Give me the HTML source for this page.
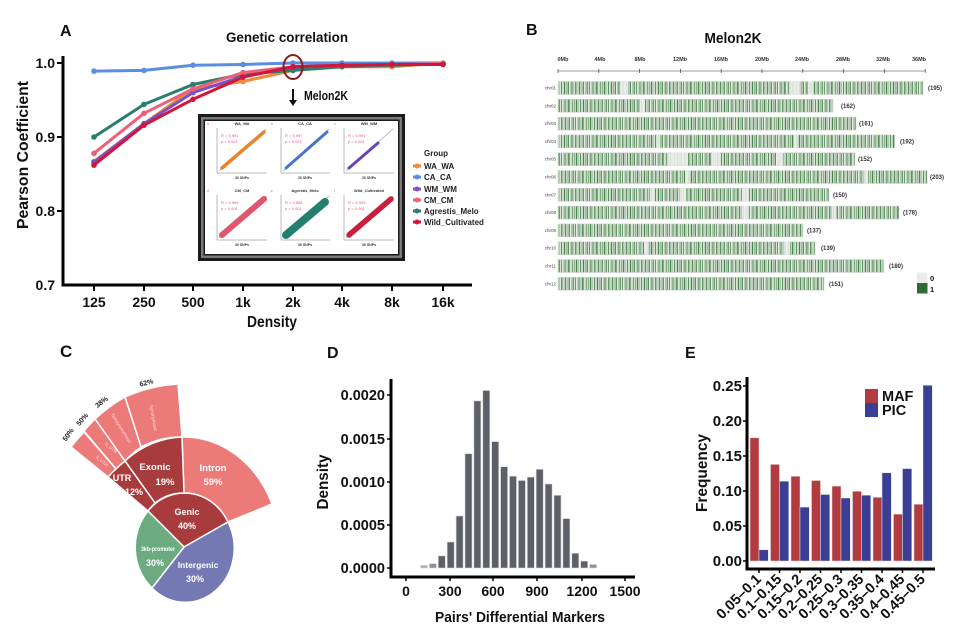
<!DOCTYPE html>
<html><head><meta charset="utf-8"><style>
html,body{margin:0;padding:0;background:#fff;}
svg{display:block;font-family:"Liberation Sans",Arial,sans-serif;}
</style></head><body>
<svg width="960" height="640" viewBox="0 0 960 640" xmlns="http://www.w3.org/2000/svg">
<defs>
<g id="st" fill="#2f7434">
<rect x="0" width="1.2" height="20" opacity=".85"/><rect x="2.2" width=".8" height="20" opacity=".5"/>
<rect x="3.6" width="1.4" height="20" opacity=".75"/><rect x="6" width=".7" height="20" opacity=".35"/>
<rect x="7.4" width="1.1" height="20" opacity=".9"/><rect x="9.5" width=".6" height="20" opacity=".55"/>
<rect x="11" width="1.5" height="20" opacity=".7"/><rect x="13.6" width=".8" height="20" opacity=".45"/>
<rect x="15.2" width="1" height="20" opacity=".95"/><rect x="17.2" width=".7" height="20" opacity=".4"/>
<rect x="18.6" width="1.3" height="20" opacity=".8"/><rect x="21" width=".6" height="20" opacity=".5"/>
<rect x="22.5" width="1.6" height="20" opacity=".65"/><rect x="25" width=".8" height="20" opacity=".85"/>
<rect x="27" width=".6" height="20" opacity=".35"/><rect x="28.4" width="1.2" height="20" opacity=".75"/>
<rect x="30.6" width=".8" height="20" opacity=".55"/><rect x="32.2" width="1.4" height="20" opacity=".9"/>
<rect x="34.8" width=".6" height="20" opacity=".4"/><rect x="36.2" width="1" height="20" opacity=".7"/>
<rect x="38.2" width=".8" height="20" opacity=".6"/><rect x="39.8" width="1.5" height="20" opacity=".85"/>
<rect x="42.4" width=".7" height="20" opacity=".45"/><rect x="44" width="1.1" height="20" opacity=".75"/>
<rect x="46" width=".6" height="20" opacity=".3"/>
</g>
<pattern id="p1" width="47" height="20" patternUnits="userSpaceOnUse"><rect width="47" height="20" fill="#e4eae2"/><use href="#st"/></pattern>
<pattern id="p2" width="47" height="20" patternUnits="userSpaceOnUse" patternTransform="translate(19,0)"><rect width="47" height="20" fill="#e4eae2"/><use href="#st"/></pattern>
<pattern id="p3" width="47" height="20" patternUnits="userSpaceOnUse" patternTransform="translate(33,0)"><rect width="47" height="20" fill="#e4eae2"/><use href="#st"/></pattern>
<marker id="mb" viewBox="-3 -3 6 6" markerWidth="6" markerHeight="6" markerUnits="userSpaceOnUse"><circle r="2.8" fill="#5b8de0"/></marker>
<marker id="mo" viewBox="-3 -3 6 6" markerWidth="6" markerHeight="6" markerUnits="userSpaceOnUse"><circle r="2.8" fill="#f08a3a"/></marker>
<marker id="mp" viewBox="-3 -3 6 6" markerWidth="6" markerHeight="6" markerUnits="userSpaceOnUse"><circle r="2.8" fill="#7a52c2"/></marker>
<marker id="mt" viewBox="-3 -3 6 6" markerWidth="6" markerHeight="6" markerUnits="userSpaceOnUse"><circle r="2.8" fill="#2b7e6e"/></marker>
<marker id="mk" viewBox="-3 -3 6 6" markerWidth="6" markerHeight="6" markerUnits="userSpaceOnUse"><circle r="2.8" fill="#ee6079"/></marker>
<marker id="mr" viewBox="-3 -3 6 6" markerWidth="6" markerHeight="6" markerUnits="userSpaceOnUse"><circle r="2.8" fill="#d2153b"/></marker>
</defs>
<rect width="960" height="640" fill="#fff"/>

<!-- ================= PANEL A ================= -->
<g font-weight="bold" fill="#111">
<text x="60" y="36" font-size="16">A</text>
<text x="287" y="42" font-size="14" text-anchor="middle" textLength="122" lengthAdjust="spacingAndGlyphs">Genetic correlation</text>
<text x="55" y="68" font-size="14" text-anchor="end">1.0</text>
<text x="55" y="142" font-size="14" text-anchor="end">0.9</text>
<text x="55" y="216" font-size="14" text-anchor="end">0.8</text>
<text x="55" y="290" font-size="14" text-anchor="end">0.7</text>
<g font-size="14" text-anchor="middle">
<text x="94" y="307">125</text><text x="144" y="307">250</text><text x="193" y="307">500</text><text x="243" y="307">1k</text>
<text x="293" y="307">2k</text><text x="342" y="307">4k</text><text x="392" y="307">8k</text><text x="443" y="307">16k</text>
</g>
<text x="272" y="327" font-size="16" text-anchor="middle" textLength="50" lengthAdjust="spacingAndGlyphs">Density</text>
<text transform="translate(28,155) rotate(-90)" font-size="16" text-anchor="middle" textLength="148" lengthAdjust="spacingAndGlyphs">Pearson Coefficient</text>
</g>
<path d="M63,56 V285 H472" stroke="#000" stroke-width="3" fill="none"/>
<path d="M57,63H63 M57,137H63 M57,211H63 M94,285V291 M144,285V291 M193,285V291 M243,285V291 M293,285V291 M342,285V291 M392,285V291 M443,285V291" stroke="#000" stroke-width="2"/>
<g fill="none" stroke-width="3" stroke-linejoin="round" stroke-linecap="round">
<polyline stroke="#5b8de0" marker-start="url(#mb)" marker-mid="url(#mb)" marker-end="url(#mb)" points="94,71.1 144,70.4 193,65.2 243,64.5 293,63 342,63 392,63 443,63"/>
<polyline stroke="#f08a3a" marker-start="url(#mo)" marker-mid="url(#mo)" marker-end="url(#mo)" points="94,161.4 144,123.7 193,88.9 243,81.5 293,70.4 342,66.7 392,66.7 443,63"/>
<polyline stroke="#7a52c2" marker-start="url(#mp)" marker-mid="url(#mp)" marker-end="url(#mp)" points="94,162.2 144,123.7 193,92.6 243,76.3 293,68.2 342,66 392,64.5 443,63.7"/>
<polyline stroke="#2b7e6e" marker-start="url(#mt)" marker-mid="url(#mt)" marker-end="url(#mt)" points="94,137 144,104.4 193,84.5 243,74.1 293,70.4 342,66.7 392,65.2 443,63.7"/>
<polyline stroke="#ee6079" marker-start="url(#mk)" marker-mid="url(#mk)" marker-end="url(#mk)" points="94,153.3 144,113.3 193,88.9 243,72.6 293,66.7 342,65.2 392,64.5 443,63.7"/>
<polyline stroke="#d2153b" marker-start="url(#mr)" marker-mid="url(#mr)" marker-end="url(#mr)" points="94,165.1 144,125.2 193,99.3 243,77.1 293,66.7 342,65.2 392,64.5 443,64.5"/>
</g>
<ellipse cx="293" cy="67" rx="9.5" ry="12" fill="none" stroke="#8b1c1c" stroke-width="2"/>
<path d="M293,89 V103" stroke="#111" stroke-width="2"/>
<path d="M289,100 L293,106 L297,100 Z" fill="#111"/>
<text x="304" y="100" font-size="13" font-weight="bold" fill="#111" textLength="44" lengthAdjust="spacingAndGlyphs">Melon2K</text>

<!-- inset -->
<rect x="198" y="114" width="207" height="147" fill="#1a1a1a"/>
<rect x="201" y="117" width="201" height="141" fill="#7a7a7a"/>
<rect x="203.5" y="119.5" width="196" height="136" fill="#1a1a1a"/>
<rect x="205" y="121" width="193" height="133" fill="#fff"/>
<g font-family="Liberation Sans,sans-serif">
<g stroke="#777" stroke-width=".5" fill="none">
<path d="M217,128V173H267"/><path d="M281,128V173H330"/><path d="M344,128V173H394"/>
<path d="M217,195V240H267"/><path d="M281,195V240H330"/><path d="M344,195V240H394"/>
</g>
<g stroke="#999" stroke-width=".6">
<path d="M219,171 L266,129"/><path d="M283,171 L329,129"/><path d="M346,171 L393,129"/>
<path d="M219,238 L266,196"/><path d="M283,238 L329,196"/><path d="M346,238 L393,196"/>
</g>
<g stroke-linecap="round">
<path d="M222,168 L264,132" stroke="#e8842e" stroke-width="3.5"/>
<path d="M286,168 L327,132" stroke="#4a74c9" stroke-width="3"/>
<path d="M349,168 L378,143" stroke="#6b44b8" stroke-width="3"/>
<path d="M222,235 L264,199" stroke="#e0576b" stroke-width="6"/>
<path d="M286,235 L325,202" stroke="#24806e" stroke-width="8"/>
<path d="M349,235 L391,199" stroke="#c8203c" stroke-width="5.5"/>
</g>
<g font-size="4" text-anchor="middle" fill="#333" font-weight="bold">
<text x="242" y="125">WA_WA</text><text x="305" y="125">CA_CA</text><text x="369" y="125">WM_WM</text>
<text x="242" y="192">CM_CM</text><text x="305" y="192">Agrestis_Melo</text><text x="369" y="192">Wild_Cultivated</text>
<text x="242" y="179" font-size="3.5">30 SNPs</text><text x="305" y="179" font-size="3.5">30 SNPs</text><text x="369" y="179" font-size="3.5">30 SNPs</text>
<text x="242" y="246" font-size="3.5">30 SNPs</text><text x="305" y="246" font-size="3.5">30 SNPs</text><text x="369" y="246" font-size="3.5">30 SNPs</text>
</g>
<g font-size="4" fill="#e8557c">
<text x="221" y="137">R = 0.991</text><text x="221" y="143">p &lt; 0.001</text>
<text x="285" y="137">R = 0.997</text><text x="285" y="143">p &lt; 0.001</text>
<text x="348" y="137">R = 0.991</text><text x="348" y="143">p &lt; 0.001</text>
<text x="221" y="204">R = 0.989</text><text x="221" y="210">p &lt; 0.001</text>
<text x="285" y="204">R = 0.988</text><text x="285" y="210">p &lt; 0.001</text>
<text x="348" y="204">R = 0.993</text><text x="348" y="210">p &lt; 0.001</text>
<text x="207" y="125" font-size="3.5">a</text><text x="271" y="125" font-size="3.5">b</text><text x="334" y="125" font-size="3.5">c</text>
<text x="207" y="192" font-size="3.5">d</text><text x="271" y="192" font-size="3.5">e</text><text x="334" y="192" font-size="3.5">f</text>
</g>
</g>
<!-- legend A -->
<g font-size="8" font-weight="bold" fill="#222">
<text x="424" y="156">Group</text>
<text x="424" y="169">WA_WA</text><text x="424" y="180">CA_CA</text><text x="424" y="192">WM_WM</text>
<text x="424" y="203">CM_CM</text><text x="424" y="214">Agrestis_Melo</text><text x="424" y="225">Wild_Cultivated</text>
</g>
<g stroke-width="3">
<path d="M413,166H421" stroke="#f08a3a"/><path d="M413,177H421" stroke="#5b8de0"/><path d="M413,189H421" stroke="#7a52c2"/>
<path d="M413,200H421" stroke="#ee6079"/><path d="M413,211H421" stroke="#2b7e6e"/><path d="M413,222H421" stroke="#d2153b"/>
</g>
<circle cx="417" cy="166" r="2.5" fill="#f08a3a"/><circle cx="417" cy="177" r="2.5" fill="#5b8de0"/><circle cx="417" cy="189" r="2.5" fill="#7a52c2"/>
<circle cx="417" cy="200" r="2.5" fill="#ee6079"/><circle cx="417" cy="211" r="2.5" fill="#2b7e6e"/><circle cx="417" cy="222" r="2.5" fill="#d2153b"/>

<!-- ================= PANEL B ================= -->
<g font-weight="bold" fill="#111">
<text x="526" y="35" font-size="16">B</text>
<text x="733" y="43" font-size="15" text-anchor="middle" textLength="57" lengthAdjust="spacingAndGlyphs">Melon2K</text>
</g>
<g font-size="5.5" font-weight="bold" fill="#333" text-anchor="middle">
<text x="563" y="61">0Mb</text><text x="600" y="61">4Mb</text><text x="640" y="61">8Mb</text><text x="680" y="61">12Mb</text>
<text x="721" y="61">16Mb</text><text x="762" y="61">20Mb</text><text x="802" y="61">24Mb</text><text x="843" y="61">28Mb</text>
<text x="883" y="61">32Mb</text><text x="919" y="61">36Mb</text>
</g>
<path d="M558,71H925" stroke="#777" stroke-width=".8"/>
<path d="M558,69V73 M598.8,69V73 M639.6,69V73 M680.4,69V73 M721.2,69V73 M762,69V73 M802.8,69V73 M843.6,69V73 M884.4,69V73 M925.2,69V73" stroke="#555" stroke-width=".8"/>
<g stroke="#cdd5cb" stroke-width=".5">
<rect x="558" y="81.5" width="365" height="13" fill="url(#p1)"/>
<rect x="558" y="99.3" width="275" height="13" fill="url(#p2)"/>
<rect x="558" y="117.1" width="298" height="13" fill="url(#p3)"/>
<rect x="558" y="134.9" width="337" height="13" fill="url(#p1)"/>
<rect x="558" y="152.7" width="297" height="13" fill="url(#p2)"/>
<rect x="558" y="170.5" width="369" height="13" fill="url(#p3)"/>
<rect x="558" y="188.3" width="271" height="13" fill="url(#p1)"/>
<rect x="558" y="206.1" width="341" height="13" fill="url(#p2)"/>
<rect x="558" y="223.9" width="245" height="13" fill="url(#p3)"/>
<rect x="558" y="241.7" width="257" height="13" fill="url(#p1)"/>
<rect x="558" y="259.5" width="326" height="13" fill="url(#p2)"/>
<rect x="558" y="277.3" width="266" height="13" fill="url(#p3)"/>
</g>
<g fill="#eef1ed" opacity=".85">
<rect x="620" y="81.5" width="8" height="13"/><rect x="790" y="81.5" width="10" height="13"/><rect x="808" y="81.5" width="5" height="13"/>
<rect x="640" y="99.3" width="5" height="13"/>
<rect x="657" y="134.9" width="3" height="13"/><rect x="794" y="134.9" width="3" height="13"/>
<rect x="668" y="152.7" width="20" height="13"/><rect x="712" y="152.7" width="8" height="13"/><rect x="776" y="152.7" width="7" height="13"/>
<rect x="685" y="170.5" width="4" height="13"/><rect x="864" y="170.5" width="4" height="13"/>
<rect x="650" y="188.3" width="4" height="13"/><rect x="680" y="188.3" width="6" height="13"/><rect x="742" y="188.3" width="6" height="13"/>
<rect x="742" y="206.1" width="6" height="13"/><rect x="832" y="206.1" width="4" height="13"/>
<rect x="644" y="241.7" width="4" height="13"/><rect x="784" y="241.7" width="6" height="13"/>
</g>
<g font-size="4.5" fill="#444" text-anchor="end">
<text x="556" y="89.5">chr01</text><text x="556" y="107.3">chr02</text><text x="556" y="125.1">chr03</text><text x="556" y="142.9">chr04</text>
<text x="556" y="160.7">chr05</text><text x="556" y="178.5">chr06</text><text x="556" y="196.3">chr07</text><text x="556" y="214.1">chr08</text>
<text x="556" y="231.9">chr09</text><text x="556" y="249.7">chr10</text><text x="556" y="267.5">chr11</text><text x="556" y="285.3">chr12</text>
</g>
<g font-size="6" fill="#333" font-weight="bold">
<text x="928" y="90">(195)</text><text x="841" y="108">(162)</text><text x="859" y="125.6">(161)</text><text x="900" y="143.4">(192)</text>
<text x="858" y="161.2">(152)</text><text x="930" y="179">(203)</text><text x="833" y="196.8">(150)</text><text x="903" y="214.6">(178)</text>
<text x="807" y="232.4">(137)</text><text x="821" y="250.2">(139)</text><text x="889" y="268">(180)</text><text x="829" y="285.8">(151)</text>
</g>
<rect x="917" y="272.5" width="10.5" height="10.5" fill="#ececec"/>
<rect x="917" y="283" width="10.5" height="10.5" fill="#2e6b35"/>
<text x="930" y="281" font-size="7.5" font-weight="bold" fill="#111">0</text>
<text x="930" y="292" font-size="7.5" font-weight="bold" fill="#111">1</text>

<!-- ================= PANEL C ================= -->
<text x="60" y="357" font-size="17" font-weight="bold" fill="#111">C</text>
<g stroke="#fff" stroke-width="1.5" stroke-linejoin="round">
<path d="M184,547 L148,511 A49,54 0 0 1 228,522 Z" fill="#a83b3c"/>
<path d="M184,547 L228,522 A49,54 0 0 1 152,588 Z" fill="#7479b4"/>
<path d="M184,547 L152,588 A49,54 0 0 1 148,511 Z" fill="#6cab80"/>
<path d="M228,522 L272,504 A96,110 0 0 0 182,437 L184,493 A49,54 0 0 1 228,522 Z" fill="#ec7a79"/>
<path d="M184,493 L182,437 A96,110 0 0 0 125,461 L155,503 A49,54 0 0 1 184,493 Z" fill="#a83b3c"/>
<path d="M155,503 L125,461 A96,110 0 0 0 108,477 L148,511 A49,54 0 0 1 155,503 Z" fill="#a83b3c"/>
<path d="M182,437 L178,384 A160,165 0 0 0 125,397 L141,447 A96,110 0 0 1 182,437 Z" fill="#ec7a79"/>
<path d="M141,447 L125,397 A155,160 0 0 0 95,419 L125,461 A96,110 0 0 1 141,447 Z" fill="#ec7a79"/>
<path d="M125,461 L95,419 A150,155 0 0 0 84,431 L116,469 A96,110 0 0 1 125,461 Z" fill="#ec7a79"/>
<path d="M116,469 L84,432 A150,150 0 0 0 71,447 L108,477 A96,110 0 0 1 116,469 Z" fill="#ec7a79"/>
</g>
<g fill="#fff" font-weight="bold" text-anchor="middle">
<text x="213" y="471" font-size="9.5">Intron</text><text x="213" y="485" font-size="9.5">59%</text>
<text x="155" y="470" font-size="9.5">Exonic</text><text x="165" y="485" font-size="9.5">19%</text>
<text x="122" y="481" font-size="9">UTR</text><text x="134" y="495" font-size="9">12%</text>
<text x="187" y="515" font-size="9">Genic</text><text x="187" y="529" font-size="9">40%</text>
<text x="158" y="551" font-size="6.5" textLength="34" lengthAdjust="spacingAndGlyphs">3kb-promoter</text><text x="155" y="566" font-size="9">30%</text>
<text x="198" y="568" font-size="8.5">Intergenic</text><text x="195" y="582" font-size="9">30%</text>
</g>
<g fill="#fbe3e3" font-size="4.5" text-anchor="middle">
<text transform="translate(152,418) rotate(80)">Synonymous</text>
<text transform="translate(120,429) rotate(58)">Nonsynonymous</text>
<text transform="translate(110,449) rotate(40)">5_UTR</text>
<text transform="translate(101,462) rotate(42)">3_UTR</text>
</g>
<g fill="#222" font-size="7" font-weight="bold" text-anchor="middle">
<text transform="translate(147,385) rotate(-15)">62%</text>
<text transform="translate(103,404) rotate(-38)">38%</text>
<text transform="translate(84,421) rotate(-48)">50%</text>
<text transform="translate(70,436) rotate(-55)">50%</text>
</g>

<!-- ================= PANEL D ================= -->
<g font-weight="bold" fill="#111">
<text x="327" y="358" font-size="16">D</text>
<g font-size="14.5" text-anchor="end">
<text x="385" y="400">0.0020</text><text x="385" y="444">0.0015</text><text x="385" y="487">0.0010</text>
<text x="385" y="530">0.0005</text><text x="385" y="573">0.0000</text>
</g>
<g font-size="14" text-anchor="middle">
<text x="406" y="596">0</text><text x="450" y="596">300</text><text x="493" y="596">600</text>
<text x="537" y="596">900</text><text x="582" y="596">1200</text><text x="625" y="596">1500</text>
</g>
<text x="520" y="622" font-size="15" text-anchor="middle" textLength="170" lengthAdjust="spacingAndGlyphs">Pairs' Differential Markers</text>
<text transform="translate(328,482) rotate(-90)" font-size="16" text-anchor="middle" textLength="55" lengthAdjust="spacingAndGlyphs">Density</text>
</g>
<g fill="#5d6066" stroke="#d6d6d6" stroke-width=".6">
<rect x="420.5" y="565.4" width="7" height="2.6" fill="#a9abaf"/>
<rect x="429.4" y="563.7" width="7" height="4.3" fill="#8e9095"/>
<rect x="438.3" y="555.9" width="7" height="12.1"/>
<rect x="447.2" y="542" width="7" height="26"/>
<rect x="456.1" y="516" width="7" height="52"/>
<rect x="465" y="453.7" width="7" height="114.3"/>
<rect x="473.9" y="400.9" width="7" height="167.1"/>
<rect x="482.8" y="390.5" width="7" height="177.5"/>
<rect x="491.7" y="441.6" width="7" height="126.4"/>
<rect x="500.6" y="466.7" width="7" height="101.3"/>
<rect x="509.5" y="476.2" width="7" height="91.8"/>
<rect x="518.4" y="480.5" width="7" height="87.5"/>
<rect x="527.3" y="477.1" width="7" height="90.9"/>
<rect x="536.2" y="469.3" width="7" height="98.7"/>
<rect x="545.1" y="484" width="7" height="84"/>
<rect x="554" y="495.3" width="7" height="72.7"/>
<rect x="562.9" y="518.6" width="7" height="49.4"/>
<rect x="571.8" y="553.3" width="7" height="14.7"/>
<rect x="580.7" y="561.1" width="7" height="6.9"/>
<rect x="589.6" y="564.5" width="7" height="3.5" fill="#8e9095"/>
</g>
<path d="M391,379 V577 H635" stroke="#000" stroke-width="3" fill="none"/>
<path d="M387,395H391 M387,439H391 M387,482H391 M387,525H391 M387,568H391 M406,577V581 M450,577V581 M493,577V581 M537,577V581 M582,577V581 M625,577V581" stroke="#000" stroke-width="1.5"/>

<!-- ================= PANEL E ================= -->
<g font-weight="bold" fill="#111">
<text x="685" y="358" font-size="16">E</text>
<g font-size="15" text-anchor="end">
<text x="742" y="391">0.25</text><text x="742" y="426">0.20</text><text x="742" y="461">0.15</text>
<text x="742" y="496">0.10</text><text x="742" y="531">0.05</text><text x="742" y="566">0.00</text>
</g>
<text transform="translate(707,473) rotate(-90)" font-size="16" text-anchor="middle" textLength="78" lengthAdjust="spacingAndGlyphs">Frequency</text>
<g font-size="14.5" text-anchor="end">
<text transform="translate(762,580) rotate(-45)">0.05–0.1</text>
<text transform="translate(782.5,580) rotate(-45)">0.1–0.15</text>
<text transform="translate(803,580) rotate(-45)">0.15–0.2</text>
<text transform="translate(823.5,580) rotate(-45)">0.2–0.25</text>
<text transform="translate(844,580) rotate(-45)">0.25–0.3</text>
<text transform="translate(864.5,580) rotate(-45)">0.3–0.35</text>
<text transform="translate(885,580) rotate(-45)">0.35–0.4</text>
<text transform="translate(905.5,580) rotate(-45)">0.4–0.45</text>
<text transform="translate(926,580) rotate(-45)">0.45–0.5</text>
</g>
</g>
<g stroke="#e2e2ea" stroke-width=".5">
<g fill="#b23b3f">
<rect x="750" y="437.8" width="9" height="123.2"/>
<rect x="770.5" y="464.4" width="9" height="96.6"/>
<rect x="791" y="476.3" width="9" height="84.7"/>
<rect x="811.5" y="480.5" width="9" height="80.5"/>
<rect x="832" y="486.1" width="9" height="74.9"/>
<rect x="852.5" y="491.3" width="9" height="69.7"/>
<rect x="873" y="497.3" width="9" height="63.7"/>
<rect x="893.5" y="514.1" width="9" height="46.9"/>
<rect x="914" y="504.3" width="9" height="56.7"/>
</g>
<g fill="#3a3e95">
<rect x="759" y="549.8" width="9.3" height="11.2"/>
<rect x="779.5" y="481.2" width="9.3" height="79.8"/>
<rect x="800" y="507.1" width="9.3" height="53.9"/>
<rect x="820.5" y="494.5" width="9.3" height="66.5"/>
<rect x="841" y="498" width="9.3" height="63"/>
<rect x="861.5" y="495.2" width="9.3" height="65.8"/>
<rect x="882" y="472.8" width="9.3" height="88.2"/>
<rect x="902.5" y="468.6" width="9.3" height="92.4"/>
<rect x="923" y="385.3" width="9.3" height="175.7"/>
</g>
</g>
<path d="M747,377 V569 H935" stroke="#000" stroke-width="3" fill="none"/>
<path d="M743,386H747 M743,421H747 M743,456H747 M743,491H747 M743,526H747 M743,561H747 M759,569V573 M779.5,569V573 M800,569V573 M820.5,569V573 M841,569V573 M861.5,569V573 M882,569V573 M902.5,569V573 M923,569V573" stroke="#000" stroke-width="1.5"/>
<rect x="865" y="389" width="13" height="14" fill="#b23b3f"/>
<rect x="865" y="403" width="13" height="14" fill="#3a3e95"/>
<text x="882" y="401" font-size="14.5" font-weight="bold" fill="#111">MAF</text>
<text x="882" y="415" font-size="14.5" font-weight="bold" fill="#111">PIC</text>
</svg>
</body></html>
